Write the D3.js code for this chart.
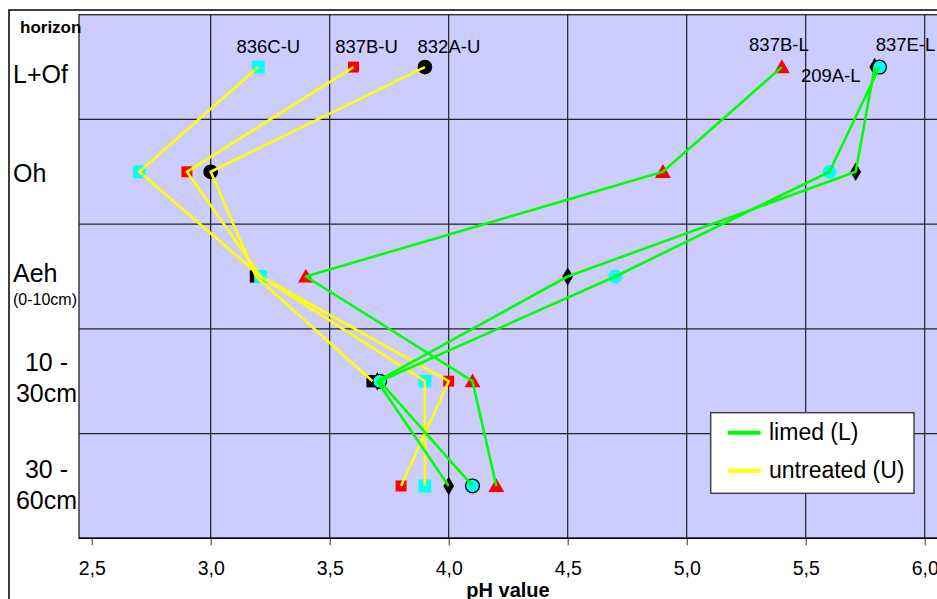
<!DOCTYPE html>
<html>
<head>
<meta charset="utf-8">
<script src="https://cdn.jsdelivr.net/npm/d3@7"></script>
<style>
  html, body { margin: 0; padding: 0; background: #fff; }
  svg { display: block; font-family: "Liberation Sans", Arial, sans-serif; }
</style>
</head>
<body>
<svg id="chart" width="937" height="599"></svg>
<script>
// ---- data ----
const horizons = ["L+Of", "Oh", "Aeh", "10-30cm", "30-60cm"];
const xTicks = [2.5, 3.0, 3.5, 4.0, 4.5, 5.0, 5.5, 6.0];
const ph832A_U = [3.90, 3.00, 3.19, 3.68, null];
const ph837B_U = [3.60, 2.90, 3.21, 4.00, 3.80];
const ph836C_U = [3.20, 2.70, 3.21, 3.90, 3.90];
const ph209A_L = [5.79, 5.71, 4.50, 3.70, 4.00];
const ph837B_L = [5.40, 4.90, 3.40, 4.10, 4.20];
const ph837E_L = [5.81, 5.60, 4.70, 3.71, 4.10];
const groups = ["limed (L)", "untreated (U)"];

// ---- styles ----
const series = [
  { name: "832A-U", values: ph832A_U, group: 1, fill: "#000000", sym: ["circle", "circle", "square", "square", "square"], size: [170, 170, 150, 150, 150], stroke: [0,0,0,0,0], label: { dx: 24, dy: -14 } },
  { name: "837B-U", values: ph837B_U, group: 1, fill: "#ff0000", sym: ["square","square","square","square","square"], size: [120,120,120,120,120], stroke: [0,0,0,0,0], label: { dx: 13, dy: -14 } },
  { name: "836C-U", values: ph836C_U, group: 1, fill: "#00ffff", sym: ["square","square","square","square","square"], size: [165,165,165,165,165], stroke: [0,0,0,0,0], label: { dx: 10, dy: -14 } },
  { name: "209A-L", values: ph209A_L, group: 0, fill: "#000000", sym: ["diamond","diamond","diamond","diamond","diamond"], size: [100,100,100,100,100], stroke: [0,0,0,0,0], label: { dx: -44, dy: 15 } },
  { name: "837B-L", values: ph837B_L, group: 0, fill: "#ff0000", sym: ["triangle","triangle","triangle","triangle","triangle"], size: [110,110,110,110,110], stroke: [0,0,0,0,0], label: { dx: -3, dy: -16 } },
  { name: "837E-L", values: ph837E_L, group: 0, fill: "#00ffff", sym: ["circle","circle","circle","circle","circle"], size: [150,150,150,150,150], stroke: [1,0,0,1,1], label: { dx: 26, dy: -16 } }
];
const lineColors = ["#00ff00", "#ffff00"];
const symMap = { circle: d3.symbolCircle, square: d3.symbolSquare, diamond: d3.symbolDiamond, triangle: d3.symbolTriangle };

const svg = d3.select("#chart");
const plot = { left: 79, top: 14.7, right: 945, bottom: 538.3 };

const x = d3.scaleLinear().domain([2.5, 6.0]).range([91.7, 924.7]);
const y = d3.scaleBand().domain(horizons).range([plot.top, plot.bottom]).padding(0);
const yc = h => y(h) + y.bandwidth() / 2;

// outer chart frame
svg.append("rect").attr("x", 9).attr("y", 10).attr("width", 940).attr("height", 600)
  .attr("fill", "#fff").attr("stroke", "#000").attr("stroke-width", 1.5);

// plot background
svg.append("rect").attr("x", plot.left).attr("y", plot.top)
  .attr("width", plot.right - plot.left).attr("height", plot.bottom - plot.top)
  .attr("fill", "#ccccff").attr("stroke", "#222").attr("stroke-width", 1.3);

// gridlines
svg.append("g").selectAll("line.v").data(xTicks.slice(1)).join("line")
  .attr("x1", d => x(d)).attr("x2", d => x(d))
  .attr("y1", plot.top).attr("y2", plot.bottom)
  .attr("stroke", "#111").attr("stroke-width", 1.1);
svg.append("g").selectAll("line.h").data(horizons.slice(1)).join("line")
  .attr("x1", plot.left).attr("x2", plot.right)
  .attr("y1", d => y(d)).attr("y2", d => y(d))
  .attr("stroke", "#222").attr("stroke-width", 1.2);

// x axis
const xAxis = d3.axisBottom(x).tickValues(xTicks).tickSize(7).tickSizeOuter(0)
  .tickFormat(d => d3.format(".1f")(d).replace(".", ","));
const gx = svg.append("g").attr("transform", `translate(0,${plot.bottom})`).call(xAxis);
gx.select(".domain").attr("d", `M${plot.left},0H${plot.right}`).attr("stroke", "#000").attr("stroke-width", 1.5);
gx.selectAll(".tick line").attr("stroke", "#333");
gx.selectAll(".tick text").attr("font-size", 19.5).attr("fill", "#000").attr("dy", 0).attr("y", 37)
  .attr("font-family", "'Liberation Sans', Arial, sans-serif");

svg.append("text").attr("x", 508).attr("y", 597).attr("text-anchor", "middle")
  .attr("font-size", 20).attr("font-weight", "bold").text("pH value");

// y labels
svg.append("text").attr("x", 20).attr("y", 33).attr("font-size", 17).attr("font-weight", "bold").text("horizon");
const yl = svg.append("g").attr("font-size", 25).attr("fill", "#000");
yl.append("text").attr("x", 13).attr("y", yc("L+Of") + 15.5).text("L+Of");
yl.append("text").attr("x", 13).attr("y", yc("Oh") + 10).text("Oh");
yl.append("text").attr("x", 13).attr("y", yc("Aeh") + 5.5).text("Aeh");
yl.append("text").attr("x", 13).attr("y", yc("Aeh") + 28).attr("font-size", 16).text("(0-10cm)");
yl.append("text").attr("x", 46.5).attr("y", yc("10-30cm") - 10.5).attr("text-anchor", "middle").text("10 -");
yl.append("text").attr("x", 46.5).attr("y", yc("10-30cm") + 20.5).attr("text-anchor", "middle").text("30cm");
yl.append("text").attr("x", 46.5).attr("y", yc("30-60cm") - 8).attr("text-anchor", "middle").text("30 -");
yl.append("text").attr("x", 46.5).attr("y", yc("30-60cm") + 23).attr("text-anchor", "middle").text("60cm");

// markers
const gm = svg.append("g");
series.forEach(s => {
  s.values.forEach((v, i) => {
    if (v == null) return;
    gm.append("path")
      .attr("d", d3.symbol().type(symMap[s.sym[i]]).size(s.size[i])())
      .attr("transform", `translate(${x(v)},${yc(horizons[i]) + (s.sym[i] === "triangle" ? 1.5 : 0)})`)
      .attr("fill", s.fill)
      .attr("stroke", s.stroke[i] ? "#000" : "none")
      .attr("stroke-width", 1.3);
  });
});

// lines (untreated first, limed on top)
const line = d3.line().defined(d => d.v != null).x(d => x(d.v)).y(d => yc(d.h));
[1, 0].forEach(g => {
  series.filter(s => s.group === g).forEach(s => {
    svg.append("path")
      .datum(s.values.map((v, i) => ({ v, h: horizons[i] })))
      .attr("d", line).attr("fill", "none")
      .attr("stroke", lineColors[g]).attr("stroke-width", 2.6).attr("stroke-linejoin", "round");
  });
});

// series labels
const gl = svg.append("g").attr("font-size", 18.5).attr("fill", "#000").attr("text-anchor", "middle");
series.forEach(s => {
  gl.append("text").attr("x", x(s.values[0]) + s.label.dx).attr("y", yc(horizons[0]) + s.label.dy).text(s.name);
});

// legend
const lg = svg.append("g");
lg.append("rect").attr("x", 710.7).attr("y", 412.7).attr("width", 203.3).attr("height", 80.6)
  .attr("fill", "#fff").attr("stroke", "#444").attr("stroke-width", 1.5);
groups.forEach((gname, i) => {
  const ly = 432.7 + i * 38;
  lg.append("line").attr("x1", 727.7).attr("x2", 760.7).attr("y1", ly).attr("y2", ly)
    .attr("stroke", lineColors[i]).attr("stroke-width", 4);
  lg.append("text").attr("x", 769).attr("y", ly + 7.5).attr("font-size", 23).text(gname);
});
</script>
</body>
</html>
